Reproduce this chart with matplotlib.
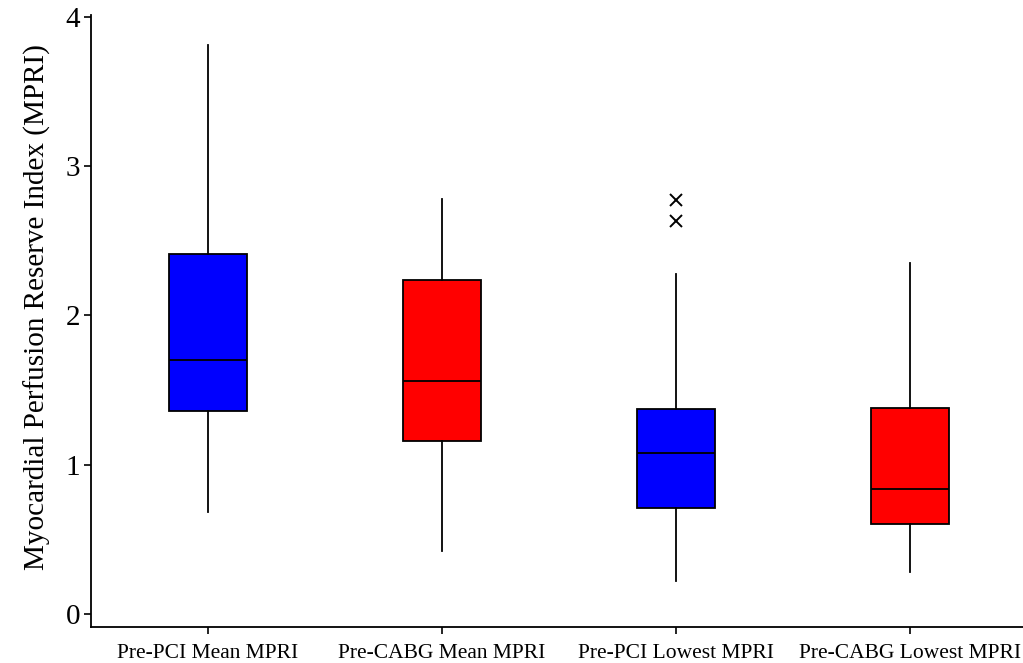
import matplotlib.pyplot as plt

plt.rcParams['font.family'] = ['Liberation Serif', 'DejaVu Serif']

labels = ["Pre-PCI Mean MPRI", "Pre-CABG Mean MPRI",
          "Pre-PCI Lowest MPRI", "Pre-CABG Lowest MPRI"]
whisker_low = [0.68, 0.42, 0.22, 0.28]
q1 = [1.36, 1.16, 0.71, 0.60]
median = [1.70, 1.56, 1.08, 0.84]
q3 = [2.41, 2.24, 1.37, 1.38]
whisker_high = [3.81, 2.78, 2.28, 2.35]
outliers = [[], [], [2.63, 2.77], []]
colors = ["#0000ff", "#ff0000", "#0000ff", "#ff0000"]

stats = []
for i in range(len(labels)):
    stats.append({
        "label": labels[i],
        "whislo": whisker_low[i],
        "q1": q1[i],
        "med": median[i],
        "q3": q3[i],
        "whishi": whisker_high[i],
        "fliers": outliers[i],
    })

fig = plt.figure(figsize=(10.23, 6.63), dpi=100)
ax = fig.add_axes([0.089, 0.0543, 0.911, 0.923])

bp = ax.bxp(
    stats, positions=[1, 2, 3, 4], widths=0.33, patch_artist=True,
    showcaps=False,
    boxprops=dict(edgecolor="black", linewidth=1.3),
    medianprops=dict(color="black", linewidth=1.3),
    whiskerprops=dict(color="black", linewidth=1.3),
    flierprops=dict(marker="x", markersize=9, markeredgecolor="black",
                    markeredgewidth=1.4, linestyle="none"),
)
for patch, c in zip(bp["boxes"], colors):
    patch.set_facecolor(c)

ax.set_xlim(0.5, 4.483)
ax.set_ylim(-0.087, 4.012)
ax.set_yticks([0, 1, 2, 3, 4])
ax.spines["top"].set_visible(False)
ax.spines["right"].set_visible(False)
ax.spines["left"].set_linewidth(1.3)
ax.spines["bottom"].set_linewidth(1.3)
ax.tick_params(axis="y", direction="out", length=5, width=1.2,
               labelsize=21, pad=3)
ax.tick_params(axis="x", direction="out", length=5, width=1.2,
               labelsize=15.5, pad=7)
ax.set_ylabel("Myocardial Perfusion Reserve Index (MPRI)", fontsize=21)
ax.yaxis.set_label_coords(-0.043, 0.523)

fig.savefig("out.png", dpi=100)
